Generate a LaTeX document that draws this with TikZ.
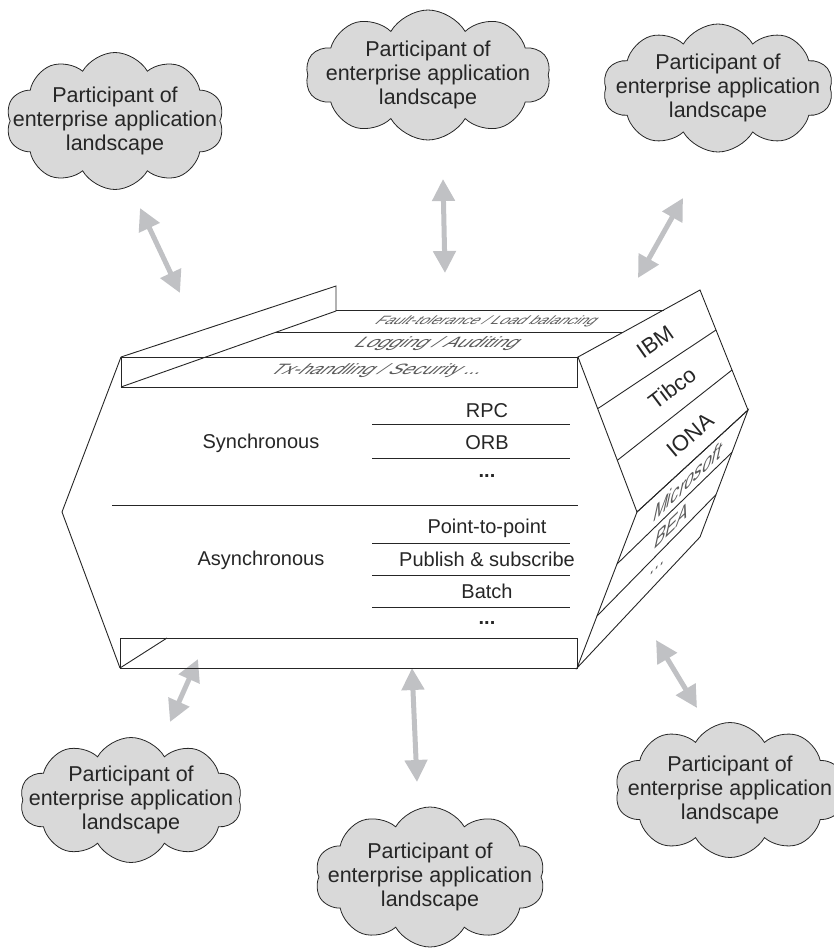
\documentclass[tikz,border=0pt]{standalone}
\usepackage{fontspec}
\setmainfont{Liberation Sans}
\usetikzlibrary{shapes.symbols,arrows.meta,calc}
\definecolor{cloudfill}{RGB}{217,217,217}
\definecolor{arrowfill}{RGB}{192,193,196}
\definecolor{inkgray}{RGB}{38,38,38}
\definecolor{planegray}{RGB}{90,90,90}
\tikzset{
  outline/.style={draw=inkgray, line width=0.9pt, line join=miter},
  participant/.style={cloud, cloud puffs=10, cloud puff arc=120, aspect=1.6,
    draw=inkgray, line width=0.8pt, fill=cloudfill, inner sep=0pt},
  cloudtext/.style={align=center, text=inkgray, font=\fontsize{21.5}{24}\selectfont},
  bodytext/.style={text=inkgray, font=\fontsize{20}{24}\selectfont, inner sep=0pt, anchor=base},
  vendortext/.style={text=inkgray, font=\fontsize{22}{24}\selectfont, inner sep=0pt},
  planetext/.style={text=planegray, font=\fontsize{15}{15}\selectfont, inner sep=0pt, transform shape},
  sidetext/.style={planetext, font=\fontsize{15}{15}\selectfont},
  biarrow/.style={draw=arrowfill, line width=5pt,
    {Triangle[length=22pt,width=22pt]}-{Triangle[length=22pt,width=22pt]}},
}
\begin{document}
\begin{tikzpicture}[x=1pt,y=-1pt]
\useasboundingbox (0,0) rectangle (833,948);

% ---- participants ----
\node[participant, minimum width=218pt, minimum height=137pt] (c1) at (115,121) {};
\node[cloudtext] (t1) at (c1.center) {Participant of\\enterprise application\\landscape};
\node[participant, minimum width=245pt, minimum height=130pt] (c2) at (428,75) {};
\node[cloudtext] (t2) at (c2.center) {Participant of\\enterprise application\\landscape};
\node[participant, minimum width=230pt, minimum height=128pt] (c3) at (718,88) {};
\node[cloudtext] (t3) at (c3.center) {Participant of\\enterprise application\\landscape};
\node[participant, minimum width=222pt, minimum height=125pt] (c4) at (131,800) {};
\node[cloudtext] (t4) at (c4.center) {Participant of\\enterprise application\\landscape};
\node[participant, minimum width=230pt, minimum height=140pt] (c5) at (430,877) {};
\node[cloudtext] (t5) at (c5.center) {Participant of\\enterprise application\\landscape};
\node[participant, minimum width=230pt, minimum height=135pt] (c6) at (730,790) {};
\node[cloudtext] (t6) at (c6.center) {Participant of\\enterprise application\\landscape};

% ---- double arrows between participants and the bus ----
\coordinate (a1a) at (140,208); \coordinate (a1b) at (180,293);
\coordinate (a2a) at (443,179); \coordinate (a2b) at (445,273);
\coordinate (a3a) at (683,198); \coordinate (a3b) at (638,278);
\coordinate (a4a) at (198,659); \coordinate (a4b) at (170,722);
\coordinate (a5a) at (412,668); \coordinate (a5b) at (417,782);
\coordinate (a6a) at (656,640); \coordinate (a6b) at (697,708);
\foreach \k in {1,...,6} \draw[biarrow] (a\k a) -- (a\k b);

% ---- service layers on top ----
\draw[outline] (121,387) -- (336,311) -- (336,286) -- (121,357);
\draw[outline] (336,310) -- (664,310);
\draw[outline] (276,332) -- (623,332);
\draw[outline] (121,357) rectangle (577,387);

% ---- front face ----
\draw[outline] (121,357) -- (62,512) -- (120,668);
\draw[outline] (120,638) rectangle (577,668);
\draw[outline] (120,668) -- (167,638);
\draw[outline] (112,505) -- (578,505);
\foreach \y in {424,458,543,575,607} \draw[outline] (372,\y) -- (570,\y);

% ---- vendor panels ----
\coordinate (uTL) at (578,357); \coordinate (uTR) at (700,290);
\coordinate (uBR) at (748,410); \coordinate (uBL) at (637,512);
\coordinate (lLR) at (700,537); \coordinate (lLL) at (577,668);
\draw[outline] (uTL) -- (uTR) -- (uBR) -- (uBL) -- cycle;
\draw[outline] (uBL) -- (uBR) -- (lLR) -- (lLL) -- cycle;
\draw[outline] ($(uTL)!1/3!(uBL)$) -- ($(uTR)!1/3!(uBR)$);
\draw[outline] ($(uTL)!2/3!(uBL)$) -- ($(uTR)!2/3!(uBR)$);
\draw[outline] ($(uBL)!1/3!(lLL)$) -- ($(uBR)!1/3!(lLR)$);
\draw[outline] ($(uBL)!2/3!(lLL)$) -- ($(uBR)!2/3!(lLR)$);

\node[vendortext, rotate=35] (ibm) at (655,342) {IBM};
\node[vendortext, rotate=37] (tibco) at (672,388) {Tibco};
\node[vendortext, rotate=40] (iona) at (690,435) {IONA};

\begin{scope}[shift={(688,481)}, rotate=44, xslant=1.5, xscale=1.55]
  \node[sidetext] (ms) at (0,0) {Microsoft};
\end{scope}
\begin{scope}[shift={(672,525)}, rotate=44, xslant=1.5, xscale=1.55]
  \node[sidetext] (bea) at (0,0) {BEA};
\end{scope}
\begin{scope}[shift={(657,568)}, rotate=44, xslant=1.5, xscale=1.55]
  \node[sidetext] (vdots) at (0,0) {...};
\end{scope}

% ---- layer captions ----
\begin{scope}[shift={(487,321)}, xslant=1.1, xscale=1.28]
  \node[planetext, font=\fontsize{12}{12}\selectfont] (fault) at (0,0) {Fault-tolerance / Load balancing};
\end{scope}
\begin{scope}[shift={(438,344)}, xslant=1.1, xscale=1.35]
  \node[planetext] (log) at (0,0) {Logging / Auditing};
\end{scope}
\begin{scope}[shift={(378,371)}, xslant=1.1, xscale=1.3]
  \node[planetext] (tx) at (0,0) {Tx-handling / Security ...};
\end{scope}

% ---- communication styles ----
\node[bodytext] (sync) at (261,448) {Synchronous};
\node[bodytext] (async) at (261,565) {Asynchronous};
\node[bodytext] (rpc) at (487,417) {RPC};
\node[bodytext] (orb) at (487,449) {ORB};
\node[bodytext] (sdots) at (487,477) {\textbf{...}};
\node[bodytext] (p2p) at (487,533) {Point-to-point};
\node[bodytext] (pubsub) at (487,566) {Publish \& subscribe};
\node[bodytext] (batch) at (487,598) {Batch};
\node[bodytext] (adots) at (487,624) {\textbf{...}};
\end{tikzpicture}
\end{document}
